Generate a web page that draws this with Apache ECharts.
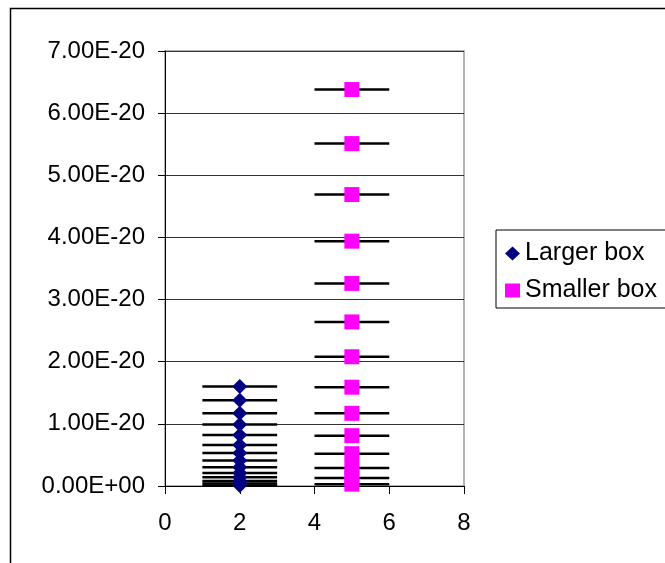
<!DOCTYPE html>
<html>
<head>
<meta charset="utf-8">
<script src="https://cdn.jsdelivr.net/npm/echarts@6/dist/echarts.min.js"></script>
<style>
  html, body { margin: 0; padding: 0; background: #fff; }
  #main { width: 665px; height: 563px; }
</style>
</head>
<body>
<div id="main"></div>
<script>
// 数据
const seriesNames = ["Larger box", "Smaller box"];
const largerX = 2;
const smallerX = 5;
const xError = 1; // 水平误差线半宽
const largerBox = [1.60e-20, 1.38e-20, 1.17e-20, 0.99e-20, 0.82e-20, 0.66e-20, 0.53e-20,
  0.41e-20, 0.30e-20, 0.21e-20, 0.14e-20, 0.08e-20, 0.04e-20, 0.01e-20];
const smallerBox = [6.38e-20, 5.51e-20, 4.69e-20, 3.94e-20, 3.26e-20, 2.64e-20, 2.08e-20,
  1.59e-20, 1.17e-20, 0.81e-20, 0.52e-20, 0.29e-20, 0.13e-20, 0.03e-20];
const xTicks = [0, 2, 4, 6, 8];

const chart = echarts.init(document.getElementById("main"));
const font = "Liberation Sans";

// 科学计数法标签，比如 7.00E-20 / 0.00E+00
function sciLabel(value) {
  if (value === 0) return "0.00E+00";
  const parts = value.toExponential(2).split("e");
  const exp = parseInt(parts[1], 10);
  const sign = exp < 0 ? "-" : "+";
  return parts[0] + "E" + sign + String(Math.abs(exp)).padStart(2, "0");
}

function errorBarSeries(x, values) {
  return {
    type: "custom",
    z: 1,
    silent: true,
    data: values.map((v) => [x, v, xError]),
    encode: { x: 0, y: 1 },
    renderItem: (params, api) => {
      const cx = api.value(0);
      const cy = api.value(1);
      const e = api.value(2);
      const p1 = api.coord([cx - e, cy]);
      const p2 = api.coord([cx + e, cy]);
      return {
        type: "line",
        shape: { x1: p1[0], y1: p1[1], x2: p2[0], y2: p2[1] },
        style: { stroke: "#000", lineWidth: 2.5 },
      };
    },
  };
}

const option = {
  animation: false,
  textStyle: { fontFamily: font },
  graphic: [
    {
      type: "rect",
      shape: { x: 10.5, y: 8.5, width: 700, height: 600 },
      style: { fill: "none", stroke: "#000", lineWidth: 1.5 },
      silent: true,
    },
  ],
  grid: {
    left: 165,
    top: 51,
    width: 299,
    height: 435,
    show: true,
    borderColor: "#999",
    borderWidth: 1.5,
  },
  legend: {
    data: seriesNames,
    orient: "vertical",
    left: 496,
    top: 230,
    padding: [11, 60, 5, 9],
    itemGap: 12,
    itemWidth: 15,
    itemHeight: 14,
    borderColor: "#000",
    borderWidth: 1,
    textStyle: { fontSize: 25, color: "#000", fontFamily: font },
  },
  xAxis: {
    type: "value",
    min: xTicks[0],
    max: xTicks[xTicks.length - 1],
    interval: 2,
    axisLine: { show: true, lineStyle: { color: "#000", width: 1 } },
    axisTick: { show: true, length: 8, lineStyle: { color: "#000" } },
    splitLine: { show: false },
    axisLabel: { fontSize: 24, color: "#000", margin: 25, fontFamily: font },
  },
  yAxis: {
    type: "value",
    min: 0,
    max: 7e-20,
    interval: 1e-20,
    axisLine: { show: true, lineStyle: { color: "#000", width: 1 } },
    axisTick: { show: true, length: 7, lineStyle: { color: "#000" } },
    splitLine: { show: true, lineStyle: { color: "#333", width: 1 } },
    axisLabel: {
      fontSize: 24,
      color: "#000",
      margin: 20,
      fontFamily: font,
      formatter: sciLabel,
    },
  },
  series: [
    errorBarSeries(largerX, largerBox),
    errorBarSeries(smallerX, smallerBox),
    {
      name: seriesNames[0],
      type: "scatter",
      z: 3,
      symbol: "diamond",
      symbolSize: 15,
      itemStyle: { color: "#000080", opacity: 1 },
      data: largerBox.map((v) => [largerX, v]),
    },
    {
      name: seriesNames[1],
      type: "scatter",
      z: 3,
      symbol: "rect",
      symbolSize: 15,
      itemStyle: { color: "#ff00ff", opacity: 1 },
      data: smallerBox.map((v) => [smallerX, v]),
    },
  ],
};

chart.setOption(option);
</script>
</body>
</html>
